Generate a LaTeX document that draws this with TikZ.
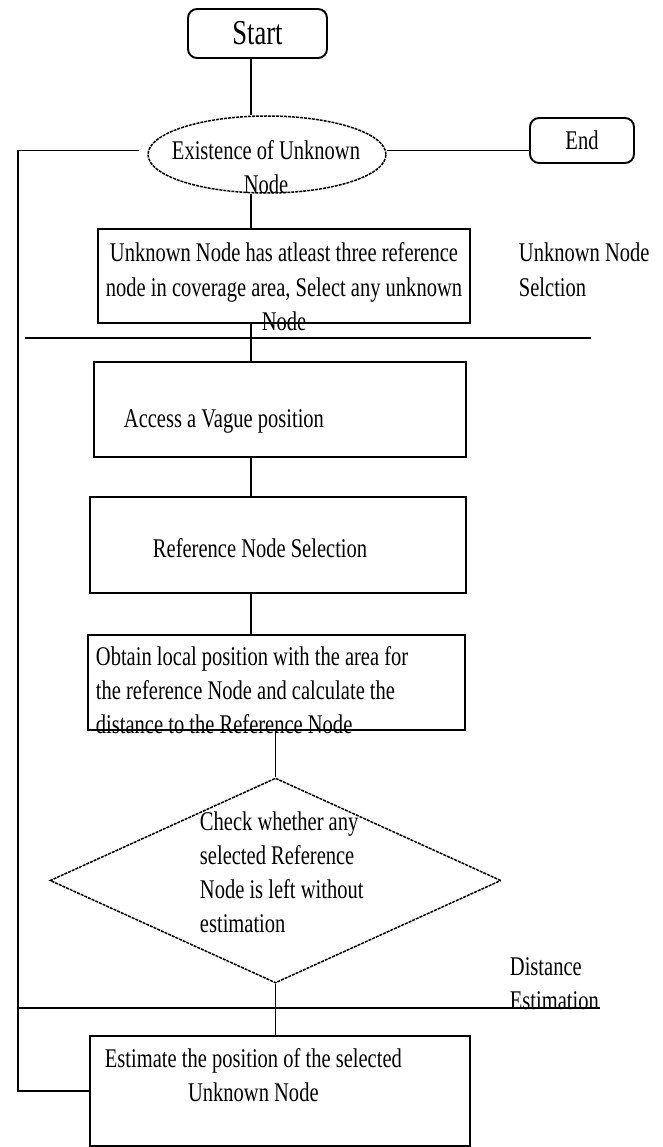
\documentclass[tikz,border=0pt]{standalone}
\usepackage{fontspec}
\setmainfont{Liberation Serif}
\usepackage{graphicx}
\usetikzlibrary{shapes.geometric}
\newcommand\sq[1]{\scalebox{0.76}[1]{#1}}
\newcommand\lbl[2]{\scalebox{0.76}[1]{\begin{tabular}[t]{@{}#1@{}}#2\end{tabular}}}
\begin{document}
\begin{tikzpicture}[x=1pt,y=-1pt]
\tikzstyle{every path}=[line width=1.9pt]
\tikzstyle{term}=[draw,rounded corners=9pt,inner sep=0pt,font=\fontsize{27}{34}\selectfont]
\tikzstyle{stepbox}=[draw,rectangle,inner sep=0pt]
\tikzstyle{test}=[draw,line width=1.5pt,dash pattern=on 3pt off 1pt,inner sep=0pt]
\tikzstyle{btext}=[inner sep=0pt,font=\fontsize{27}{34}\selectfont]
\useasboundingbox (0,0) rectangle (662,1147);
\coordinate (spine) at (251,0);
\node[term,minimum width=139pt,minimum height=49pt,font=\fontsize{35}{40}\selectfont] (start) at (257.5,33.5) {\sq{Start}};
\node[term,minimum width=104pt,minimum height=45pt] (finish) at (582,140.5) {\sq{End}};
\node[test,ellipse,minimum width=238pt,minimum height=77pt] (exist) at (267,154.5) {};
\node[btext,anchor=base] (existtxt) at (266,160) {\lbl{c}{Existence of Unknown\\Node}};
\node[stepbox,minimum width=372pt,minimum height=94pt] (sel) at (284,276) {};
\node[btext,anchor=base] (seltxt) at (284,262) {\lbl{c}{Unknown Node has atleast three reference\\node in coverage area, Select any unknown\\Node}};
\node[btext,anchor=base west] (seltag) at (518,262) {\lbl{l}{Unknown Node\\Selction}};
\node[stepbox,minimum width=372pt,minimum height=95pt] (vague) at (280,409.5) {};
\node[btext,anchor=base west] (vaguetxt) at (123,427) {\sq{Access a Vague position}};
\node[stepbox,minimum width=376pt,minimum height=96pt] (refsel) at (278,545) {};
\node[btext,anchor=base west] (refseltxt) at (152,557) {\sq{Reference Node Selection}};
\node[stepbox,minimum width=377pt,minimum height=95pt] (obtain) at (276.5,682.5) {};
\node[btext,anchor=base west] (obtaintxt) at (95,665) {\lbl{l}{Obtain local position with the area for\\the reference Node and calculate the\\distance to the Reference Node}};
\node[test,diamond,minimum width=451pt,minimum height=205pt] (check) at (275.5,880.5) {};
\node[btext,anchor=base west] (checktxt) at (199,830) {\lbl{l}{Check whether any\\selected Reference\\Node is left without\\estimation}};
\node[btext,anchor=base west] (disttag) at (509,975) {\lbl{l}{Distance\\Estimation}};
\node[stepbox,minimum width=380pt,minimum height=110pt] (est) at (280,1091) {};
\node[btext,anchor=base west] (esttxt) at (104,1067) {\lbl{c}{Estimate the position of the selected\\Unknown Node}};
\coordinate (cutA) at (25,338);
\coordinate (cutB) at (591,338);
\coordinate (cutC) at (19,1008);
\coordinate (cutD) at (600,1008);
\draw (cutA) -- (cutB);
\draw (cutC) -- (cutD);
\draw (start.south -| spine) -- (exist.north -| spine);
\draw (exist.south -| spine) -- (sel.north -| spine);
\draw (sel.south -| spine) -- (vague.north -| spine);
\draw (vague.south -| spine) -- (refsel.north -| spine);
\draw (refsel.south -| spine) -- (obtain.north -| spine);
\draw (obtain.south -| check.north) -- (check.north);
\draw (check.south) -- (check.south |- est.north);
\draw ([yshift=4pt]exist.east) -- ([yshift=4pt]exist.east -| finish.west);
\draw[shorten >=8pt] (est.west) -- ++(-71,0) |- ([yshift=4pt]exist.west);
\end{tikzpicture}
\end{document}
